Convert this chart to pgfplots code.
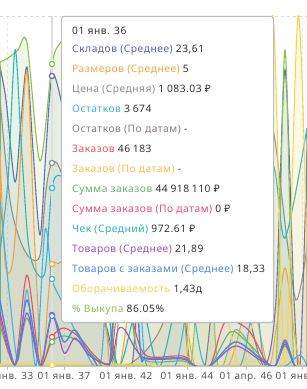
\documentclass[border=0pt]{standalone}
\usepackage{fontspec}
\setmainfont[LetterSpace=5]{Noto Sans}
\usepackage{pgfplots}
\pgfplotsset{compat=1.18}
\usetikzlibrary{shadows}
\definecolor{cSkl}{HTML}{5A66B5}
\definecolor{cRaz}{HTML}{F5A742}
\definecolor{cCena}{HTML}{8F8F8F}
\definecolor{cOst}{HTML}{45B0EA}
\definecolor{cOstD}{HTML}{8A7F7A}
\definecolor{cZak}{HTML}{E8525F}
\definecolor{cZakD}{HTML}{FBBD4D}
\definecolor{cSum}{HTML}{69B46A}
\definecolor{cSumD}{HTML}{E84C7D}
\definecolor{cChek}{HTML}{2CB5C2}
\definecolor{cTov}{HTML}{9B51C6}
\definecolor{cTovZ}{HTML}{4F86E0}
\definecolor{cObor}{HTML}{FAD44F}
\definecolor{cVyk}{HTML}{8CC152}
\definecolor{cVal}{HTML}{333333}
\definecolor{cBorder}{HTML}{B8BCC4}
\newcommand{\tfont}{\fontsize{10.3}{12}\selectfont}
\newcommand{\ts}{\hspace{2.8bp}}
\begin{document}
\begin{tikzpicture}
\path[use as bounding box] (0,0) rectangle (307bp,389bp);
\begin{axis}[
  at={(0bp,23bp)}, anchor=south west,
  scale only axis, width=307bp, height=350bp,
  xmin=0, xmax=307, ymin=0, ymax=350,
  axis x line*=bottom, hide y axis,
  x axis line style={draw=gray!45, line width=0.8bp},
  xtick={7,64,126,187,246,302},
  xticklabels={01 янв. 33, 01 янв. 37, 01 янв. 42, 01 янв. 44, 01 апр. 46, 01 янв. 47},
  tick align=outside, major tick length=4bp,
  x tick style={draw=gray!50, line width=0.8bp},
  xticklabel style={font=\fontsize{10}{12}\selectfont, text=black!65, yshift=1.5bp},
  xmajorgrids, grid style={dashed, gray!18, line width=0.6bp},
  every axis plot/.append style={smooth, line width=1.1bp},
]
\draw[dashed, gray!30, line width=0.6bp] (rel axis cs:0,1) -- (rel axis cs:1,1);
% fills + lines
\addplot[draw=cCena, fill=cCena, fill opacity=0.10] coordinates {(0,266)(10,166)(20,126)(30,108)(40,111)(46,176)(52,203)(61,194)(80,116)(100,66)(118,0)(160,36)(200,166)(240,116)(262,216)(273,236)(287,126)(296,66)(305,104)(307,126)} \closedcycle;
\addplot[draw=cSkl, fill=cSkl, fill opacity=0.07] coordinates {(0,299)(6,266)(15,184)(21,246)(27,299)(33,216)(40,131)(46,216)(52,290)(61,266)(75,186)(90,116)(105,46)(118,0)(132,0)(145,166)(170,216)(190,0)(205,0)(225,166)(250,46)(265,0)(276,66)(285,296)(294,66)(300,0)(307,216)} \closedcycle;
\addplot[draw=cVyk, fill=cVyk, fill opacity=0.13] coordinates {(0,304)(8,308)(18,316)(27,323)(40,205)(52,302)(61,324)(75,336)(90,266)(105,166)(113,0)(125,116)(150,216)(175,166)(190,0)(205,166)(218,0)(235,36)(250,21)(262,0)(276,0)(285,316)(294,0)(307,0)} \closedcycle;
\addplot[draw=cRaz, fill=cRaz, fill opacity=0.10] coordinates {(0,216)(5,104)(12,100)(18,166)(27,294)(35,116)(42,0)(48,66)(52,102)(61,104)(75,136)(95,166)(110,0)(120,0)(140,116)(175,116)(195,0)(228,0)(250,66)(268,0)(276,36)(285,98)(294,36)(300,0)(307,0)} \closedcycle;
\addplot[draw=cChek, fill=cChek, fill opacity=0.05] coordinates {(0,116)(8,186)(15,316)(21,226)(28,126)(35,96)(45,94)(52,178)(61,190)(80,166)(100,116)(118,0)(140,66)(160,0)(190,116)(220,66)(250,166)(273,201)(285,128)(307,238)} \closedcycle;
\addplot[draw=cObor, fill=cObor, fill opacity=0.15] coordinates {(0,2)(40,3)(52,1)(61,2)(100,2)(150,2)(185,2)(195,166)(205,66)(215,116)(240,0)(262,116)(273,350)(285,0)(298,350)(307,116)} \closedcycle;
\addplot[draw=cOst] coordinates {(0,166)(10,66)(18,6)(27,76)(36,0)(45,136)(52,87)(61,66)(80,26)(100,0)(108,116)(113,166)(125,156)(140,66)(147,0)(175,0)(190,66)(205,0)(240,0)(255,66)(265,0)(285,0)(300,11)(307,0)};
\addplot[draw=cSum] coordinates {(0,41)(15,1)(27,48)(40,1)(52,24)(64,30)(80,24)(95,8)(110,3)(118,116)(125,116)(135,26)(147,5)(183,5)(195,0)(210,0)(230,34)(245,26)(255,16)(265,4)(275,0)(285,20)(295,0)(307,0)};
\addplot[draw=cZak] coordinates {(0,48)(15,2)(27,91)(40,2)(52,29)(64,38)(80,28)(95,10)(110,4)(118,66)(125,86)(135,36)(147,10)(183,10)(195,0)(210,0)(225,44)(245,39)(255,26)(265,6)(275,0)(285,24)(295,0)(307,0)};
\addplot[draw=cTov] coordinates {(0,54)(15,1)(27,53)(40,1)(52,51)(64,13)(75,28)(90,10)(110,3)(118,36)(125,36)(135,18)(147,7)(183,7)(195,0)(210,0)(235,20)(260,6)(275,0)(285,22)(295,0)(307,0)};
\addplot[draw=cTovZ, line width=1.4bp] coordinates {(0,66)(15,1)(27,66)(40,1)(52,50)(64,24)(75,36)(90,12)(110,4)(118,216)(130,216)(140,21)(147,8)(183,8)(195,0)(210,0)(235,24)(260,8)(275,0)(285,26)(295,0)(307,0)};
% hover line
\addplot[sharp plot, draw=gray!25, line width=1.5bp] coordinates {(52,0)(52,350)};
% hover markers
\addplot[only marks, mark=*, mark size=2.6bp, mark options={fill=white, draw=cVyk, line width=1.2bp}] coordinates {(52,302)};
\addplot[only marks, mark=*, mark size=2.6bp, mark options={fill=white, draw=cSkl, line width=1.2bp}] coordinates {(52,290)};
\addplot[only marks, mark=*, mark size=2.6bp, mark options={fill=white, draw=cCena, line width=1.2bp}] coordinates {(52,203)};
\addplot[only marks, mark=*, mark size=2.6bp, mark options={fill=white, draw=cChek, line width=1.2bp}] coordinates {(52,178)};
\addplot[only marks, mark=*, mark size=2.6bp, mark options={fill=white, draw=cRaz, line width=1.2bp}] coordinates {(52,102)};
\addplot[only marks, mark=*, mark size=2.6bp, mark options={fill=white, draw=cOst, line width=1.2bp}] coordinates {(52,87)};
\addplot[only marks, mark=*, mark size=2.6bp, mark options={fill=white, draw=cTov, line width=1.2bp}] coordinates {(52,51)};
\addplot[only marks, mark=*, mark size=2.6bp, mark options={fill=white, draw=cTovZ, line width=1.2bp}] coordinates {(52,50)};
\addplot[only marks, mark=*, mark size=2.6bp, mark options={fill=white, draw=cZak, line width=1.2bp}] coordinates {(52,29)};
\addplot[only marks, mark=*, mark size=2.6bp, mark options={fill=white, draw=cSum, line width=1.2bp}] coordinates {(52,24)};
\addplot[only marks, mark=*, mark size=2.6bp, mark options={fill=white, draw=cObor, line width=1.2bp}] coordinates {(52,1)};
\end{axis}
% tooltip
\node[draw=cBorder, fill=white, rounded corners=3bp, line width=0.8bp,
      drop shadow={opacity=0.12, shadow xshift=1.2bp, shadow yshift=-1.2bp},
      minimum width=212bp, minimum height=306bp, inner sep=0, anchor=north west] at (61bp,373bp) {};
\begin{scope}[every node/.style={anchor=base west, inner sep=0, font=\tfont, text=cVal}]
\node at (72bp,354.5bp) {01 янв. 36};
\node at (72bp,336.5bp) {\textcolor{cSkl}{Складов (Среднее)} 23,61};
\node at (72bp,316.5bp) {\textcolor{cRaz}{Размеров (Среднее)} 5};
\node at (72bp,296.5bp) {\textcolor{cCena}{Цена (Средняя)} 1\ts083.03 ₽};
\node at (72bp,276.5bp) {\textcolor{cOst}{Остатков} 3\ts674};
\node at (72bp,256.5bp) {\textcolor{cOstD}{Остатков (По датам)} -};
\node at (72bp,236.5bp) {\textcolor{cZak}{Заказов} 46\ts183};
\node at (72bp,216.5bp) {\textcolor{cZakD}{Заказов (По датам)} -};
\node at (72bp,196.5bp) {\textcolor{cSum}{Сумма заказов} 44\ts918\ts110 ₽};
\node at (72bp,176.5bp) {\textcolor{cSumD}{Сумма заказов (По датам)} 0 ₽};
\node at (72bp,156.5bp) {\textcolor{cChek}{Чек (Средний)} 972.61 ₽};
\node at (72bp,136.5bp) {\textcolor{cTov}{Товаров (Среднее)} 21,89};
\node at (72bp,116.5bp) {\textcolor{cTovZ}{Товаров с заказами (Среднее)} 18,33};
\node at (72bp,96.5bp) {\textcolor{cObor}{Оборачиваемость} 1,43д};
\node at (72bp,76.5bp) {\textcolor{cVyk}{\% Выкупа} 86.05\%};
\end{scope}
\end{tikzpicture}
\end{document}
